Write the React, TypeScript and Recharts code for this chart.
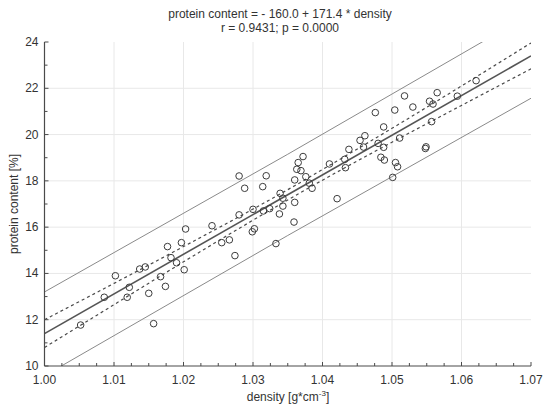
import React from 'react';
import { ComposedChart, XAxis, YAxis, Scatter, Line, ReferenceLine } from 'recharts';

// Observed points (density, protein content)
const densityValues = [
  1.0052, 1.0086, 1.0102, 1.0119, 1.0122, 1.0137, 1.0145, 1.0150, 1.0157, 1.0167,
  1.0174, 1.0177, 1.0182, 1.0190, 1.0197, 1.0201, 1.0203, 1.0241, 1.0255, 1.0266,
  1.0274, 1.0280, 1.0288, 1.0280, 1.0300, 1.0299, 1.0302, 1.0314, 1.0319, 1.0315,
  1.0324, 1.0333, 1.0338, 1.0339, 1.0343, 1.0343, 1.0360, 1.0360, 1.0359, 1.0363,
  1.0365, 1.0369, 1.0372, 1.0376, 1.0381, 1.0385, 1.0410, 1.0421, 1.0432, 1.0433,
  1.0438, 1.0454, 1.0459, 1.0461, 1.0480, 1.0476, 1.0488, 1.0488, 1.0484, 1.0489,
  1.0504, 1.0518, 1.0530, 1.0511, 1.0505, 1.0508, 1.0501, 1.0548, 1.0549, 1.0554,
  1.0559, 1.0565, 1.0557, 1.0594, 1.0621,
];
const proteinValues = [
  11.77, 12.97, 13.90, 12.97, 13.40, 14.19, 14.28, 13.14, 11.83, 13.86,
  13.44, 15.16, 14.68, 14.46, 15.33, 14.16, 15.92, 16.06, 15.33, 15.45,
  14.77, 18.21, 17.68, 16.53, 16.77, 15.80, 15.93, 17.75, 18.22, 16.70,
  16.80, 15.29, 16.57, 17.46, 17.25, 16.91, 18.04, 17.07, 16.22, 18.50,
  18.79, 18.44, 19.05, 18.18, 17.90, 17.68, 18.73, 17.23, 18.93, 18.57,
  19.36, 19.75, 19.46, 19.95, 19.62, 20.95, 20.33, 19.45, 19.02, 18.90,
  21.06, 21.67, 21.19, 19.85, 18.79, 18.61, 18.15, 19.40, 19.47, 21.44,
  21.32, 21.81, 20.56, 21.66, 22.33,
];

// Regression line
const fitX = [1.0, 1.07];
const fitY = [11.4, 23.4];

// Confidence band (dashed)
const confX = [1.0, 1.01, 1.02, 1.03, 1.036, 1.04, 1.05, 1.06, 1.07];
const confUpper = [12.0, 13.57, 15.16, 16.78, 17.79, 18.49, 20.27, 22.1, 23.96];
const confLower = [10.8, 12.65, 14.5, 16.3, 17.35, 18.03, 19.67, 21.26, 22.84];

// Prediction band (thin solid)
const predX = [1.0, 1.035, 1.07];
const predUpper = [13.2, 19.15, 25.22];
const predLower = [9.58, 15.64, 21.57];

// Axis ticks
const xMajorTicks = [1.0, 1.01, 1.02, 1.03, 1.04, 1.05, 1.06, 1.07];
const xTicks = [
  1.0, 1.0025, 1.005, 1.0075, 1.01, 1.0125, 1.015, 1.0175, 1.02, 1.0225, 1.025, 1.0275,
  1.03, 1.0325, 1.035, 1.0375, 1.04, 1.0425, 1.045, 1.0475, 1.05, 1.0525, 1.055, 1.0575,
  1.06, 1.0625, 1.065, 1.0675, 1.07,
];
const yMajorTicks = [10, 12, 14, 16, 18, 20, 22, 24];
const yTicks = [10, 11, 12, 13, 14, 15, 16, 17, 18, 19, 20, 21, 22, 23, 24];

const pointData = densityValues.map((x, i) => ({ x, y: proteinValues[i] }));
const fitData = fitX.map((x, i) => ({ x, y: fitY[i] }));
const confData = confX.map((x, i) => ({ x, upper: confUpper[i], lower: confLower[i] }));
const predData = predX.map((x, i) => ({ x, upper: predUpper[i], lower: predLower[i] }));

const FONT = '"Liberation Sans", Arial, sans-serif';
const AXIS = '#4a4a4a';
const TEXT = '#333';
const GRID = '#e8e8e8';

const isMajorX = (v: number) => xMajorTicks.some((t) => Math.abs(t - v) < 1e-6);
const isMajorY = (v: number) => yMajorTicks.some((t) => Math.abs(t - v) < 1e-6);

function BottomTick(props: any) {
  const { x, y, payload } = props;
  const v = payload.value as number;
  const major = isMajorX(v);
  return (
    <g>
      <line x1={x} x2={x} y1={y} y2={y - (major ? 4 : 3)} stroke={AXIS} strokeWidth={1} />
      {major && (
        <text x={x} y={y + 18} textAnchor="middle" fontSize={12} fill={TEXT} fontFamily={FONT}>
          {v.toFixed(2)}
        </text>
      )}
    </g>
  );
}

function TopTick(props: any) {
  const { x, y, payload } = props;
  const v = payload.value as number;
  const major = isMajorX(v);
  return <line x1={x} x2={x} y1={y} y2={y + (major ? 4 : 3)} stroke={AXIS} strokeWidth={1} />;
}

function LeftTick(props: any) {
  const { x, y, payload } = props;
  const v = payload.value as number;
  const major = isMajorY(v);
  return (
    <g>
      <line x1={x} x2={x + (major ? 4 : 3)} y1={y} y2={y} stroke={AXIS} strokeWidth={1} />
      {major && (
        <text x={x - 6} y={y + 4} textAnchor="end" fontSize={12} fill={TEXT} fontFamily={FONT}>
          {v}
        </text>
      )}
    </g>
  );
}

function RightTick(props: any) {
  const { x, y, payload } = props;
  const v = payload.value as number;
  const major = isMajorY(v);
  return <line x1={x} x2={x - (major ? 4 : 3)} y1={y} y2={y} stroke={AXIS} strokeWidth={1} />;
}

function Ring(props: any) {
  const { cx, cy } = props;
  if (cx == null || cy == null) return null;
  return <circle cx={cx} cy={cy} r={3.3} fill="none" stroke="#3c3c3c" strokeWidth={1} />;
}

export default function App() {
  return (
    <div style={{ position: 'absolute', left: 0, top: 0, width: 550, height: 414, background: '#fff' }}>
      <ComposedChart width={550} height={414} margin={{ top: 42, right: 19, bottom: 0, left: 0 }}>
        <XAxis
          xAxisId="b"
          dataKey="x"
          type="number"
          orientation="bottom"
          domain={[1.0, 1.07]}
          allowDataOverflow
          ticks={xTicks}
          interval={0}
          tick={BottomTick}
          tickLine={false}
          tickSize={0}
          tickMargin={0}
          height={48}
          axisLine={{ stroke: AXIS, strokeWidth: 1.2 }}
        />
        <XAxis
          xAxisId="t"
          dataKey="x"
          type="number"
          orientation="top"
          domain={[1.0, 1.07]}
          allowDataOverflow
          ticks={xTicks}
          interval={0}
          tick={TopTick}
          tickLine={false}
          tickSize={0}
          tickMargin={0}
          height={0}
          axisLine={{ stroke: AXIS, strokeWidth: 1.2 }}
        />
        <YAxis
          yAxisId="l"
          type="number"
          orientation="left"
          domain={[10, 24]}
          allowDataOverflow
          ticks={yTicks}
          interval={0}
          tick={LeftTick}
          tickLine={false}
          tickSize={0}
          tickMargin={0}
          width={44.5}
          axisLine={{ stroke: AXIS, strokeWidth: 1.2 }}
        />
        <YAxis
          yAxisId="r"
          type="number"
          orientation="right"
          domain={[10, 24]}
          allowDataOverflow
          ticks={yTicks}
          interval={0}
          tick={RightTick}
          tickLine={false}
          tickSize={0}
          tickMargin={0}
          width={0}
          axisLine={{ stroke: AXIS, strokeWidth: 1.2 }}
        />
        {xMajorTicks.slice(1, -1).map((v) => (
          <ReferenceLine key={'gx' + v} x={v} xAxisId="b" yAxisId="l" stroke={GRID} strokeWidth={1} />
        ))}
        {yMajorTicks.slice(1, -1).map((v) => (
          <ReferenceLine key={'gy' + v} y={v} xAxisId="b" yAxisId="l" stroke={GRID} strokeWidth={1} />
        ))}
        <Line
          data={predData}
          dataKey="upper"
          xAxisId="b"
          yAxisId="l"
          type="linear"
          stroke="#8a8a8a"
          strokeWidth={1}
          dot={false}
          isAnimationActive={false}
        />
        <Line
          data={predData}
          dataKey="lower"
          xAxisId="b"
          yAxisId="l"
          type="linear"
          stroke="#8a8a8a"
          strokeWidth={1}
          dot={false}
          isAnimationActive={false}
        />
        <Line
          data={confData}
          dataKey="upper"
          xAxisId="b"
          yAxisId="l"
          type="monotone"
          stroke="#4a4a4a"
          strokeWidth={1.2}
          strokeDasharray="3 3"
          dot={false}
          isAnimationActive={false}
        />
        <Line
          data={confData}
          dataKey="lower"
          xAxisId="b"
          yAxisId="l"
          type="monotone"
          stroke="#4a4a4a"
          strokeWidth={1.2}
          strokeDasharray="3 3"
          dot={false}
          isAnimationActive={false}
        />
        <Line
          data={fitData}
          dataKey="y"
          xAxisId="b"
          yAxisId="l"
          type="linear"
          stroke="#555"
          strokeWidth={1.6}
          dot={false}
          isAnimationActive={false}
        />
        <Scatter
          data={pointData}
          dataKey="y"
          xAxisId="b"
          yAxisId="l"
          shape={Ring}
          isAnimationActive={false}
        />
      </ComposedChart>
      <svg
        width={550}
        height={414}
        style={{ position: 'absolute', left: 0, top: 0, pointerEvents: 'none' }}
      >
        <text x={280} y={18} textAnchor="middle" fontSize={12} fill={TEXT} fontFamily={FONT}>
          protein content = - 160.0 + 171.4 * density
        </text>
        <text x={280} y={32} textAnchor="middle" fontSize={12} fill={TEXT} fontFamily={FONT}>
          r = 0.9431; p = 0.0000
        </text>
        <text x={288} y={401} textAnchor="middle" fontSize={12} fill={TEXT} fontFamily={FONT}>
          density [g*cm
          <tspan fontSize={8} dy={-5}>-3</tspan>
          <tspan dy={5}>]</tspan>
        </text>
        <text
          x={-204}
          y={18}
          transform="rotate(-90)"
          textAnchor="middle"
          fontSize={12}
          fill={TEXT}
          fontFamily={FONT}
        >
          protein content [%]
        </text>
      </svg>
    </div>
  );
}
